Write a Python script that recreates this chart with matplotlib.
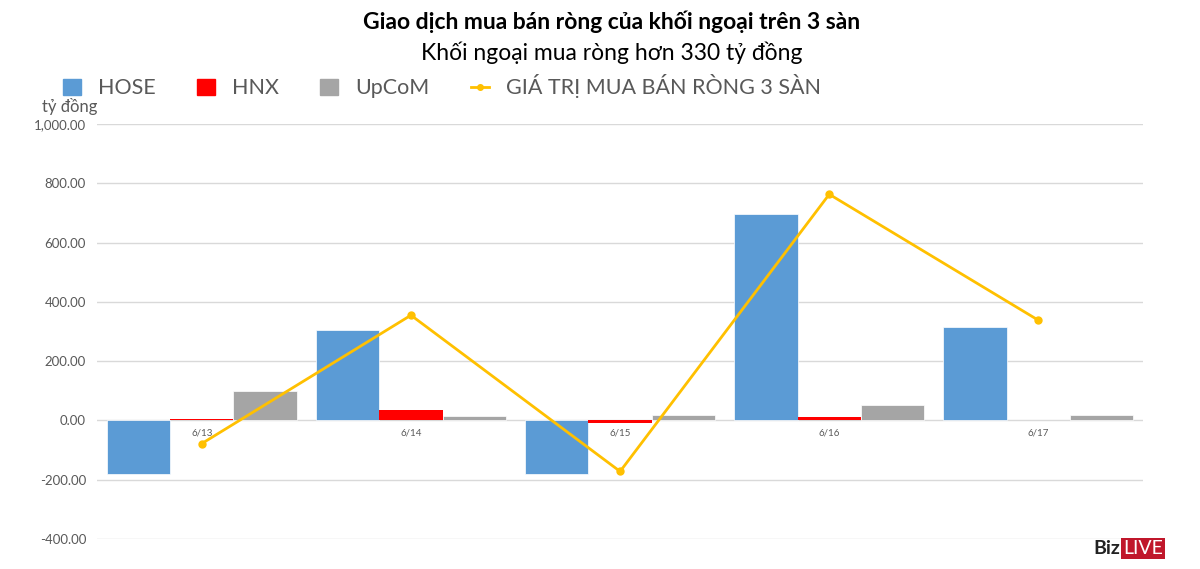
import numpy as np
import matplotlib.pyplot as plt
from matplotlib.lines import Line2D
from matplotlib.patches import Patch

plt.rcParams['font.family'] = ['Lato', 'Noto Sans', 'DejaVu Sans']

# data (ty dong)
days = ['6/13', '6/14', '6/15', '6/16', '6/17']
hose = [-182, 304, -180, 697, 314]
hnx = [5, 34, -7, 10, 3]
upcom = [98, 14, 20, 51, 20]
tong = [-78, 355, -172, 763, 338]

c_hose = '#5B9BD5'
c_hnx = '#FF0000'
c_upcom = '#A5A5A5'
c_line = '#FFC000'
txt_gray = '#595959'

fig = plt.figure(figsize=(12, 5.69), dpi=100)
ax = fig.add_axes([0.081, 0.0527, 0.8715, 0.7293])

x = np.arange(len(days))
w = 0.303
ax.bar(x - w, hose, w, color=c_hose, edgecolor='white', linewidth=0.5, zorder=2)
ax.bar(x, hnx, w, color=c_hnx, linewidth=0, zorder=2)
ax.bar(x + w, upcom, w, color=c_upcom, edgecolor='white', linewidth=0.5, zorder=2)
ax.plot(x, tong, color=c_line, lw=2, marker='o', ms=5, zorder=3)

ax.set_xlim(-0.5, len(days) - 0.5)
ax.set_ylim(-400, 1000)
ax.set_yticks(np.arange(-400, 1001, 200))
ax.set_yticklabels(['{:,.2f}'.format(v) for v in np.arange(-400, 1001, 200)],
                   fontsize=9.5, color=txt_gray)
ax.yaxis.grid(True, color='#D9D9D9', lw=1)
ax.set_axisbelow(True)
ax.tick_params(axis='y', length=0, pad=8)
ax.set_xticks([])
for s in ax.spines.values():
    s.set_visible(False)

for i, d in enumerate(days):
    ax.annotate(d, (i, 0), xytext=(0, -9), textcoords='offset points',
                ha='center', va='center', fontsize=7, color=txt_gray)

fig.text(0.51, 0.962, 'Giao dịch mua bán ròng của khối ngoại trên 3 sàn',
         ha='center', va='center', fontsize=16.5, fontweight='bold', color='black')
fig.text(0.51, 0.908, 'Khối ngoại mua ròng hơn 330 tỷ đồng',
         ha='center', va='center', fontsize=16.5, color='black')
fig.text(0.035, 0.812, 'tỷ đồng', ha='left', va='center', fontsize=12, color=txt_gray)

handles = [Patch(color=c_hose), Patch(color=c_hnx), Patch(color=c_upcom),
           Line2D([0], [0], color=c_line, lw=2, marker='o', ms=4)]
labels = ['HOSE', 'HNX', 'UpCoM', 'GIÁ TRỊ MUA BÁN RÒNG 3 SÀN']
fig.legend(handles, labels, loc='center left', bbox_to_anchor=(0.036, 0.848),
           ncol=4, frameon=False, fontsize=15.5, labelcolor=txt_gray,
           handlelength=0.85, handleheight=0.75, columnspacing=1.9, handletextpad=0.8)

# logo
fig.text(0.911, 0.036, 'Biz', ha='left', va='center', fontsize=14,
         fontweight='bold', color='#222222')
fig.text(0.936, 0.036, 'LIVE', ha='left', va='center', fontsize=14, color='white',
         bbox=dict(boxstyle='square,pad=0.1', fc='#C0172B', ec='none'))

fig.savefig('out.png', dpi=100)
